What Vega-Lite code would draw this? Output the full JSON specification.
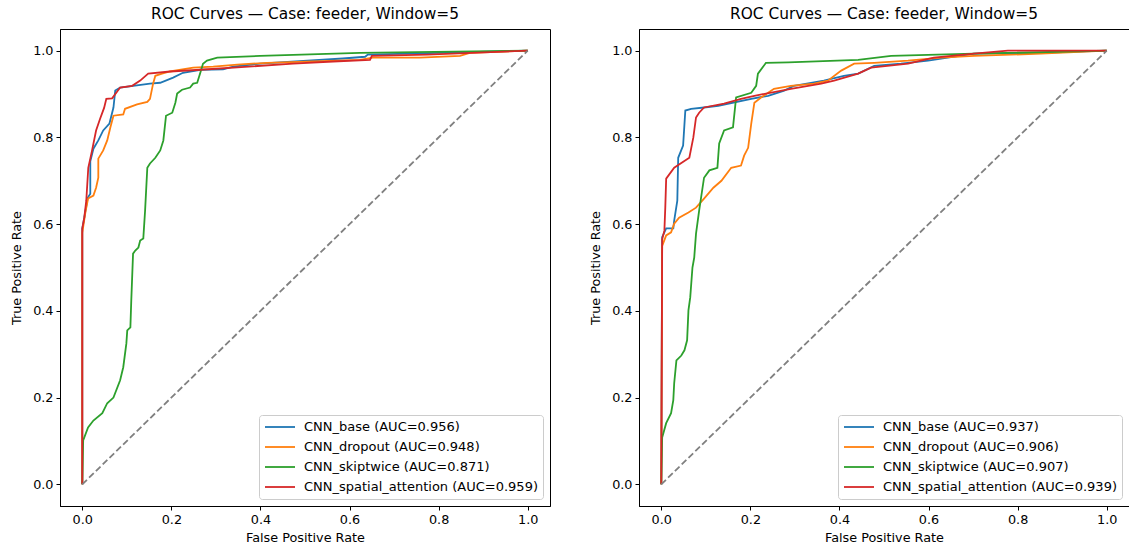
{
  "$schema": "https://vega.github.io/schema/vega-lite/v6.json",
  "padding": {"left": 10, "top": 6, "right": 0, "bottom": 0},
  "background": "white",
  "config": {
    "font": "DejaVu Sans",
    "view": {"stroke": "black", "strokeWidth": 1},
    "axis": {
      "grid": false,
      "domainColor": "black",
      "domainWidth": 1,
      "tickColor": "black",
      "tickWidth": 1,
      "tickSize": 4,
      "labelFontSize": 12.8,
      "labelColor": "black",
      "labelPadding": 3,
      "titleFontSize": 12.8,
      "titleColor": "black",
      "titleFontWeight": "normal"
    },
    "axisX": {"titlePadding": 6},
    "axisY": {"titlePadding": 9},
    "title": {"fontSize": 15.4, "fontWeight": "normal", "color": "black", "offset": 7},
    "legend": {
      "title": null,
      "orient": "bottom-right",
      "offset": 7,
      "symbolType": "M-1,0L4,0",
      "symbolSize": 144,
      "symbolStrokeWidth": 1.8,
      "labelFontSize": 13,
      "labelColor": "black",
      "labelOffset": 26,
      "labelLimit": 400,
      "rowPadding": 6,
      "padding": 5,
      "fillColor": "rgba(255,255,255,0.8)",
      "strokeColor": "#cccccc",
      "cornerRadius": 3
    }
  },
  "datasets": {
    "feeder_a": [
      {"model": "CNN_base (AUC=0.956)", "fpr": 0, "tpr": 0},
      {"model": "CNN_base (AUC=0.956)", "fpr": 0, "tpr": 0.59},
      {"model": "CNN_base (AUC=0.956)", "fpr": 0.0045, "tpr": 0.615},
      {"model": "CNN_base (AUC=0.956)", "fpr": 0.012, "tpr": 0.66},
      {"model": "CNN_base (AUC=0.956)", "fpr": 0.018, "tpr": 0.67},
      {"model": "CNN_base (AUC=0.956)", "fpr": 0.018, "tpr": 0.745},
      {"model": "CNN_base (AUC=0.956)", "fpr": 0.025, "tpr": 0.774},
      {"model": "CNN_base (AUC=0.956)", "fpr": 0.036, "tpr": 0.793},
      {"model": "CNN_base (AUC=0.956)", "fpr": 0.047, "tpr": 0.816},
      {"model": "CNN_base (AUC=0.956)", "fpr": 0.061, "tpr": 0.832},
      {"model": "CNN_base (AUC=0.956)", "fpr": 0.07, "tpr": 0.869},
      {"model": "CNN_base (AUC=0.956)", "fpr": 0.074, "tpr": 0.908},
      {"model": "CNN_base (AUC=0.956)", "fpr": 0.085, "tpr": 0.915},
      {"model": "CNN_base (AUC=0.956)", "fpr": 0.152, "tpr": 0.924},
      {"model": "CNN_base (AUC=0.956)", "fpr": 0.175, "tpr": 0.926},
      {"model": "CNN_base (AUC=0.956)", "fpr": 0.204, "tpr": 0.938},
      {"model": "CNN_base (AUC=0.956)", "fpr": 0.226, "tpr": 0.949},
      {"model": "CNN_base (AUC=0.956)", "fpr": 0.265, "tpr": 0.956},
      {"model": "CNN_base (AUC=0.956)", "fpr": 0.316, "tpr": 0.957},
      {"model": "CNN_base (AUC=0.956)", "fpr": 0.339, "tpr": 0.963},
      {"model": "CNN_base (AUC=0.956)", "fpr": 0.399, "tpr": 0.97},
      {"model": "CNN_base (AUC=0.956)", "fpr": 0.585, "tpr": 0.982},
      {"model": "CNN_base (AUC=0.956)", "fpr": 0.635, "tpr": 0.986},
      {"model": "CNN_base (AUC=0.956)", "fpr": 0.641, "tpr": 0.991},
      {"model": "CNN_base (AUC=0.956)", "fpr": 1, "tpr": 1},

      {"model": "CNN_dropout (AUC=0.948)", "fpr": 0, "tpr": 0},
      {"model": "CNN_dropout (AUC=0.948)", "fpr": 0, "tpr": 0.58},
      {"model": "CNN_dropout (AUC=0.948)", "fpr": 0.007, "tpr": 0.627},
      {"model": "CNN_dropout (AUC=0.948)", "fpr": 0.013, "tpr": 0.659},
      {"model": "CNN_dropout (AUC=0.948)", "fpr": 0.025, "tpr": 0.666},
      {"model": "CNN_dropout (AUC=0.948)", "fpr": 0.031, "tpr": 0.684},
      {"model": "CNN_dropout (AUC=0.948)", "fpr": 0.036, "tpr": 0.707},
      {"model": "CNN_dropout (AUC=0.948)", "fpr": 0.036, "tpr": 0.751},
      {"model": "CNN_dropout (AUC=0.948)", "fpr": 0.047, "tpr": 0.77},
      {"model": "CNN_dropout (AUC=0.948)", "fpr": 0.056, "tpr": 0.793},
      {"model": "CNN_dropout (AUC=0.948)", "fpr": 0.063, "tpr": 0.823},
      {"model": "CNN_dropout (AUC=0.948)", "fpr": 0.07, "tpr": 0.85},
      {"model": "CNN_dropout (AUC=0.948)", "fpr": 0.092, "tpr": 0.853},
      {"model": "CNN_dropout (AUC=0.948)", "fpr": 0.096, "tpr": 0.866},
      {"model": "CNN_dropout (AUC=0.948)", "fpr": 0.123, "tpr": 0.876},
      {"model": "CNN_dropout (AUC=0.948)", "fpr": 0.146, "tpr": 0.882},
      {"model": "CNN_dropout (AUC=0.948)", "fpr": 0.152, "tpr": 0.889},
      {"model": "CNN_dropout (AUC=0.948)", "fpr": 0.159, "tpr": 0.924},
      {"model": "CNN_dropout (AUC=0.948)", "fpr": 0.164, "tpr": 0.942},
      {"model": "CNN_dropout (AUC=0.948)", "fpr": 0.179, "tpr": 0.947},
      {"model": "CNN_dropout (AUC=0.948)", "fpr": 0.197, "tpr": 0.952},
      {"model": "CNN_dropout (AUC=0.948)", "fpr": 0.249, "tpr": 0.961},
      {"model": "CNN_dropout (AUC=0.948)", "fpr": 0.294, "tpr": 0.963},
      {"model": "CNN_dropout (AUC=0.948)", "fpr": 0.348, "tpr": 0.968},
      {"model": "CNN_dropout (AUC=0.948)", "fpr": 0.415, "tpr": 0.972},
      {"model": "CNN_dropout (AUC=0.948)", "fpr": 0.623, "tpr": 0.979},
      {"model": "CNN_dropout (AUC=0.948)", "fpr": 0.652, "tpr": 0.984},
      {"model": "CNN_dropout (AUC=0.948)", "fpr": 0.758, "tpr": 0.984},
      {"model": "CNN_dropout (AUC=0.948)", "fpr": 0.848, "tpr": 0.988},
      {"model": "CNN_dropout (AUC=0.948)", "fpr": 0.87, "tpr": 0.995},
      {"model": "CNN_dropout (AUC=0.948)", "fpr": 1, "tpr": 1},

      {"model": "CNN_skiptwice (AUC=0.871)", "fpr": 0, "tpr": 0},
      {"model": "CNN_skiptwice (AUC=0.871)", "fpr": 0.002, "tpr": 0.101},
      {"model": "CNN_skiptwice (AUC=0.871)", "fpr": 0.013, "tpr": 0.131},
      {"model": "CNN_skiptwice (AUC=0.871)", "fpr": 0.025, "tpr": 0.147},
      {"model": "CNN_skiptwice (AUC=0.871)", "fpr": 0.045, "tpr": 0.164},
      {"model": "CNN_skiptwice (AUC=0.871)", "fpr": 0.056, "tpr": 0.187},
      {"model": "CNN_skiptwice (AUC=0.871)", "fpr": 0.07, "tpr": 0.2},
      {"model": "CNN_skiptwice (AUC=0.871)", "fpr": 0.085, "tpr": 0.24},
      {"model": "CNN_skiptwice (AUC=0.871)", "fpr": 0.092, "tpr": 0.27},
      {"model": "CNN_skiptwice (AUC=0.871)", "fpr": 0.099, "tpr": 0.325},
      {"model": "CNN_skiptwice (AUC=0.871)", "fpr": 0.101, "tpr": 0.355},
      {"model": "CNN_skiptwice (AUC=0.871)", "fpr": 0.108, "tpr": 0.362},
      {"model": "CNN_skiptwice (AUC=0.871)", "fpr": 0.11, "tpr": 0.424},
      {"model": "CNN_skiptwice (AUC=0.871)", "fpr": 0.114, "tpr": 0.532},
      {"model": "CNN_skiptwice (AUC=0.871)", "fpr": 0.119, "tpr": 0.539},
      {"model": "CNN_skiptwice (AUC=0.871)", "fpr": 0.126, "tpr": 0.546},
      {"model": "CNN_skiptwice (AUC=0.871)", "fpr": 0.13, "tpr": 0.562},
      {"model": "CNN_skiptwice (AUC=0.871)", "fpr": 0.137, "tpr": 0.567},
      {"model": "CNN_skiptwice (AUC=0.871)", "fpr": 0.141, "tpr": 0.631},
      {"model": "CNN_skiptwice (AUC=0.871)", "fpr": 0.146, "tpr": 0.73},
      {"model": "CNN_skiptwice (AUC=0.871)", "fpr": 0.152, "tpr": 0.74},
      {"model": "CNN_skiptwice (AUC=0.871)", "fpr": 0.164, "tpr": 0.753},
      {"model": "CNN_skiptwice (AUC=0.871)", "fpr": 0.175, "tpr": 0.77},
      {"model": "CNN_skiptwice (AUC=0.871)", "fpr": 0.182, "tpr": 0.793},
      {"model": "CNN_skiptwice (AUC=0.871)", "fpr": 0.188, "tpr": 0.85},
      {"model": "CNN_skiptwice (AUC=0.871)", "fpr": 0.202, "tpr": 0.857},
      {"model": "CNN_skiptwice (AUC=0.871)", "fpr": 0.209, "tpr": 0.88},
      {"model": "CNN_skiptwice (AUC=0.871)", "fpr": 0.213, "tpr": 0.901},
      {"model": "CNN_skiptwice (AUC=0.871)", "fpr": 0.224, "tpr": 0.91},
      {"model": "CNN_skiptwice (AUC=0.871)", "fpr": 0.242, "tpr": 0.915},
      {"model": "CNN_skiptwice (AUC=0.871)", "fpr": 0.249, "tpr": 0.924},
      {"model": "CNN_skiptwice (AUC=0.871)", "fpr": 0.258, "tpr": 0.926},
      {"model": "CNN_skiptwice (AUC=0.871)", "fpr": 0.265, "tpr": 0.949},
      {"model": "CNN_skiptwice (AUC=0.871)", "fpr": 0.271, "tpr": 0.97},
      {"model": "CNN_skiptwice (AUC=0.871)", "fpr": 0.28, "tpr": 0.977},
      {"model": "CNN_skiptwice (AUC=0.871)", "fpr": 0.303, "tpr": 0.984},
      {"model": "CNN_skiptwice (AUC=0.871)", "fpr": 0.399, "tpr": 0.988},
      {"model": "CNN_skiptwice (AUC=0.871)", "fpr": 0.623, "tpr": 0.995},
      {"model": "CNN_skiptwice (AUC=0.871)", "fpr": 1, "tpr": 1},

      {"model": "CNN_spatial_attention (AUC=0.959)", "fpr": 0, "tpr": 0},
      {"model": "CNN_spatial_attention (AUC=0.959)", "fpr": 0, "tpr": 0.59},
      {"model": "CNN_spatial_attention (AUC=0.959)", "fpr": 0.0045, "tpr": 0.615},
      {"model": "CNN_spatial_attention (AUC=0.959)", "fpr": 0.009, "tpr": 0.654},
      {"model": "CNN_spatial_attention (AUC=0.959)", "fpr": 0.0135, "tpr": 0.73},
      {"model": "CNN_spatial_attention (AUC=0.959)", "fpr": 0.018, "tpr": 0.751},
      {"model": "CNN_spatial_attention (AUC=0.959)", "fpr": 0.022, "tpr": 0.77},
      {"model": "CNN_spatial_attention (AUC=0.959)", "fpr": 0.031, "tpr": 0.816},
      {"model": "CNN_spatial_attention (AUC=0.959)", "fpr": 0.04, "tpr": 0.843},
      {"model": "CNN_spatial_attention (AUC=0.959)", "fpr": 0.049, "tpr": 0.868},
      {"model": "CNN_spatial_attention (AUC=0.959)", "fpr": 0.054, "tpr": 0.889},
      {"model": "CNN_spatial_attention (AUC=0.959)", "fpr": 0.067, "tpr": 0.89},
      {"model": "CNN_spatial_attention (AUC=0.959)", "fpr": 0.085, "tpr": 0.915},
      {"model": "CNN_spatial_attention (AUC=0.959)", "fpr": 0.112, "tpr": 0.919},
      {"model": "CNN_spatial_attention (AUC=0.959)", "fpr": 0.13, "tpr": 0.931},
      {"model": "CNN_spatial_attention (AUC=0.959)", "fpr": 0.148, "tpr": 0.947},
      {"model": "CNN_spatial_attention (AUC=0.959)", "fpr": 0.197, "tpr": 0.952},
      {"model": "CNN_spatial_attention (AUC=0.959)", "fpr": 0.265, "tpr": 0.956},
      {"model": "CNN_spatial_attention (AUC=0.959)", "fpr": 0.473, "tpr": 0.97},
      {"model": "CNN_spatial_attention (AUC=0.959)", "fpr": 0.563, "tpr": 0.975},
      {"model": "CNN_spatial_attention (AUC=0.959)", "fpr": 0.646, "tpr": 0.979},
      {"model": "CNN_spatial_attention (AUC=0.959)", "fpr": 0.65, "tpr": 0.988},
      {"model": "CNN_spatial_attention (AUC=0.959)", "fpr": 0.774, "tpr": 0.991},
      {"model": "CNN_spatial_attention (AUC=0.959)", "fpr": 1, "tpr": 1}
    ],
    "feeder_b": [
      {"model": "CNN_base (AUC=0.937)", "fpr": 0, "tpr": 0},
      {"model": "CNN_base (AUC=0.937)", "fpr": 0.002, "tpr": 0.57},
      {"model": "CNN_base (AUC=0.937)", "fpr": 0.011, "tpr": 0.59},
      {"model": "CNN_base (AUC=0.937)", "fpr": 0.027, "tpr": 0.59},
      {"model": "CNN_base (AUC=0.937)", "fpr": 0.029, "tpr": 0.608},
      {"model": "CNN_base (AUC=0.937)", "fpr": 0.036, "tpr": 0.654},
      {"model": "CNN_base (AUC=0.937)", "fpr": 0.038, "tpr": 0.753},
      {"model": "CNN_base (AUC=0.937)", "fpr": 0.049, "tpr": 0.781},
      {"model": "CNN_base (AUC=0.937)", "fpr": 0.054, "tpr": 0.862},
      {"model": "CNN_base (AUC=0.937)", "fpr": 0.067, "tpr": 0.866},
      {"model": "CNN_base (AUC=0.937)", "fpr": 0.096, "tpr": 0.869},
      {"model": "CNN_base (AUC=0.937)", "fpr": 0.128, "tpr": 0.873},
      {"model": "CNN_base (AUC=0.937)", "fpr": 0.202, "tpr": 0.889},
      {"model": "CNN_base (AUC=0.937)", "fpr": 0.24, "tpr": 0.896},
      {"model": "CNN_base (AUC=0.937)", "fpr": 0.276, "tpr": 0.908},
      {"model": "CNN_base (AUC=0.937)", "fpr": 0.298, "tpr": 0.919},
      {"model": "CNN_base (AUC=0.937)", "fpr": 0.365, "tpr": 0.931},
      {"model": "CNN_base (AUC=0.937)", "fpr": 0.41, "tpr": 0.942},
      {"model": "CNN_base (AUC=0.937)", "fpr": 0.442, "tpr": 0.947},
      {"model": "CNN_base (AUC=0.937)", "fpr": 0.478, "tpr": 0.965},
      {"model": "CNN_base (AUC=0.937)", "fpr": 0.538, "tpr": 0.97},
      {"model": "CNN_base (AUC=0.937)", "fpr": 0.599, "tpr": 0.977},
      {"model": "CNN_base (AUC=0.937)", "fpr": 0.702, "tpr": 0.993},
      {"model": "CNN_base (AUC=0.937)", "fpr": 0.852, "tpr": 0.995},
      {"model": "CNN_base (AUC=0.937)", "fpr": 1, "tpr": 1},

      {"model": "CNN_dropout (AUC=0.906)", "fpr": 0, "tpr": 0},
      {"model": "CNN_dropout (AUC=0.906)", "fpr": 0.002, "tpr": 0.55},
      {"model": "CNN_dropout (AUC=0.906)", "fpr": 0.004, "tpr": 0.555},
      {"model": "CNN_dropout (AUC=0.906)", "fpr": 0.011, "tpr": 0.574},
      {"model": "CNN_dropout (AUC=0.906)", "fpr": 0.022, "tpr": 0.581},
      {"model": "CNN_dropout (AUC=0.906)", "fpr": 0.029, "tpr": 0.601},
      {"model": "CNN_dropout (AUC=0.906)", "fpr": 0.04, "tpr": 0.615},
      {"model": "CNN_dropout (AUC=0.906)", "fpr": 0.061, "tpr": 0.627},
      {"model": "CNN_dropout (AUC=0.906)", "fpr": 0.078, "tpr": 0.638},
      {"model": "CNN_dropout (AUC=0.906)", "fpr": 0.096, "tpr": 0.659},
      {"model": "CNN_dropout (AUC=0.906)", "fpr": 0.117, "tpr": 0.684},
      {"model": "CNN_dropout (AUC=0.906)", "fpr": 0.135, "tpr": 0.7},
      {"model": "CNN_dropout (AUC=0.906)", "fpr": 0.157, "tpr": 0.73},
      {"model": "CNN_dropout (AUC=0.906)", "fpr": 0.179, "tpr": 0.735},
      {"model": "CNN_dropout (AUC=0.906)", "fpr": 0.186, "tpr": 0.758},
      {"model": "CNN_dropout (AUC=0.906)", "fpr": 0.195, "tpr": 0.776},
      {"model": "CNN_dropout (AUC=0.906)", "fpr": 0.202, "tpr": 0.832},
      {"model": "CNN_dropout (AUC=0.906)", "fpr": 0.209, "tpr": 0.88},
      {"model": "CNN_dropout (AUC=0.906)", "fpr": 0.224, "tpr": 0.892},
      {"model": "CNN_dropout (AUC=0.906)", "fpr": 0.253, "tpr": 0.912},
      {"model": "CNN_dropout (AUC=0.906)", "fpr": 0.291, "tpr": 0.919},
      {"model": "CNN_dropout (AUC=0.906)", "fpr": 0.343, "tpr": 0.924},
      {"model": "CNN_dropout (AUC=0.906)", "fpr": 0.374, "tpr": 0.931},
      {"model": "CNN_dropout (AUC=0.906)", "fpr": 0.404, "tpr": 0.954},
      {"model": "CNN_dropout (AUC=0.906)", "fpr": 0.433, "tpr": 0.97},
      {"model": "CNN_dropout (AUC=0.906)", "fpr": 0.478, "tpr": 0.972},
      {"model": "CNN_dropout (AUC=0.906)", "fpr": 0.554, "tpr": 0.977},
      {"model": "CNN_dropout (AUC=0.906)", "fpr": 0.628, "tpr": 0.984},
      {"model": "CNN_dropout (AUC=0.906)", "fpr": 0.702, "tpr": 0.988},
      {"model": "CNN_dropout (AUC=0.906)", "fpr": 0.852, "tpr": 0.993},
      {"model": "CNN_dropout (AUC=0.906)", "fpr": 1, "tpr": 1},

      {"model": "CNN_skiptwice (AUC=0.907)", "fpr": 0, "tpr": 0},
      {"model": "CNN_skiptwice (AUC=0.907)", "fpr": 0.002, "tpr": 0.108},
      {"model": "CNN_skiptwice (AUC=0.907)", "fpr": 0.011, "tpr": 0.141},
      {"model": "CNN_skiptwice (AUC=0.907)", "fpr": 0.022, "tpr": 0.164},
      {"model": "CNN_skiptwice (AUC=0.907)", "fpr": 0.027, "tpr": 0.194},
      {"model": "CNN_skiptwice (AUC=0.907)", "fpr": 0.029, "tpr": 0.233},
      {"model": "CNN_skiptwice (AUC=0.907)", "fpr": 0.034, "tpr": 0.286},
      {"model": "CNN_skiptwice (AUC=0.907)", "fpr": 0.045, "tpr": 0.297},
      {"model": "CNN_skiptwice (AUC=0.907)", "fpr": 0.052, "tpr": 0.309},
      {"model": "CNN_skiptwice (AUC=0.907)", "fpr": 0.058, "tpr": 0.332},
      {"model": "CNN_skiptwice (AUC=0.907)", "fpr": 0.061, "tpr": 0.401},
      {"model": "CNN_skiptwice (AUC=0.907)", "fpr": 0.065, "tpr": 0.431},
      {"model": "CNN_skiptwice (AUC=0.907)", "fpr": 0.07, "tpr": 0.5},
      {"model": "CNN_skiptwice (AUC=0.907)", "fpr": 0.074, "tpr": 0.523},
      {"model": "CNN_skiptwice (AUC=0.907)", "fpr": 0.078, "tpr": 0.578},
      {"model": "CNN_skiptwice (AUC=0.907)", "fpr": 0.085, "tpr": 0.631},
      {"model": "CNN_skiptwice (AUC=0.907)", "fpr": 0.096, "tpr": 0.707},
      {"model": "CNN_skiptwice (AUC=0.907)", "fpr": 0.108, "tpr": 0.724},
      {"model": "CNN_skiptwice (AUC=0.907)", "fpr": 0.126, "tpr": 0.73},
      {"model": "CNN_skiptwice (AUC=0.907)", "fpr": 0.13, "tpr": 0.786},
      {"model": "CNN_skiptwice (AUC=0.907)", "fpr": 0.141, "tpr": 0.816},
      {"model": "CNN_skiptwice (AUC=0.907)", "fpr": 0.161, "tpr": 0.823},
      {"model": "CNN_skiptwice (AUC=0.907)", "fpr": 0.168, "tpr": 0.892},
      {"model": "CNN_skiptwice (AUC=0.907)", "fpr": 0.202, "tpr": 0.903},
      {"model": "CNN_skiptwice (AUC=0.907)", "fpr": 0.213, "tpr": 0.919},
      {"model": "CNN_skiptwice (AUC=0.907)", "fpr": 0.217, "tpr": 0.947},
      {"model": "CNN_skiptwice (AUC=0.907)", "fpr": 0.235, "tpr": 0.972},
      {"model": "CNN_skiptwice (AUC=0.907)", "fpr": 0.285, "tpr": 0.973},
      {"model": "CNN_skiptwice (AUC=0.907)", "fpr": 0.442, "tpr": 0.979},
      {"model": "CNN_skiptwice (AUC=0.907)", "fpr": 0.516, "tpr": 0.988},
      {"model": "CNN_skiptwice (AUC=0.907)", "fpr": 0.702, "tpr": 0.993},
      {"model": "CNN_skiptwice (AUC=0.907)", "fpr": 1, "tpr": 1},

      {"model": "CNN_spatial_attention (AUC=0.939)", "fpr": 0, "tpr": 0},
      {"model": "CNN_spatial_attention (AUC=0.939)", "fpr": 0.002, "tpr": 0.565},
      {"model": "CNN_spatial_attention (AUC=0.939)", "fpr": 0.007, "tpr": 0.585},
      {"model": "CNN_spatial_attention (AUC=0.939)", "fpr": 0.009, "tpr": 0.638},
      {"model": "CNN_spatial_attention (AUC=0.939)", "fpr": 0.011, "tpr": 0.705},
      {"model": "CNN_spatial_attention (AUC=0.939)", "fpr": 0.029, "tpr": 0.73},
      {"model": "CNN_spatial_attention (AUC=0.939)", "fpr": 0.063, "tpr": 0.753},
      {"model": "CNN_spatial_attention (AUC=0.939)", "fpr": 0.072, "tpr": 0.8},
      {"model": "CNN_spatial_attention (AUC=0.939)", "fpr": 0.078, "tpr": 0.846},
      {"model": "CNN_spatial_attention (AUC=0.939)", "fpr": 0.085, "tpr": 0.857},
      {"model": "CNN_spatial_attention (AUC=0.939)", "fpr": 0.096, "tpr": 0.869},
      {"model": "CNN_spatial_attention (AUC=0.939)", "fpr": 0.141, "tpr": 0.878},
      {"model": "CNN_spatial_attention (AUC=0.939)", "fpr": 0.179, "tpr": 0.889},
      {"model": "CNN_spatial_attention (AUC=0.939)", "fpr": 0.209, "tpr": 0.896},
      {"model": "CNN_spatial_attention (AUC=0.939)", "fpr": 0.291, "tpr": 0.912},
      {"model": "CNN_spatial_attention (AUC=0.939)", "fpr": 0.359, "tpr": 0.924},
      {"model": "CNN_spatial_attention (AUC=0.939)", "fpr": 0.388, "tpr": 0.931},
      {"model": "CNN_spatial_attention (AUC=0.939)", "fpr": 0.442, "tpr": 0.947},
      {"model": "CNN_spatial_attention (AUC=0.939)", "fpr": 0.471, "tpr": 0.961},
      {"model": "CNN_spatial_attention (AUC=0.939)", "fpr": 0.554, "tpr": 0.97},
      {"model": "CNN_spatial_attention (AUC=0.939)", "fpr": 0.612, "tpr": 0.984},
      {"model": "CNN_spatial_attention (AUC=0.939)", "fpr": 0.702, "tpr": 0.993},
      {"model": "CNN_spatial_attention (AUC=0.939)", "fpr": 0.778, "tpr": 1},
      {"model": "CNN_spatial_attention (AUC=0.939)", "fpr": 1, "tpr": 1}
    ],
    "chance": [
      {"fpr": 0, "tpr": 0},
      {"fpr": 1, "tpr": 1}
    ]
  },
  "hconcat": [
    {
      "width": 490,
      "height": 477,
      "title": "ROC Curves — Case: feeder, Window=5",
      "layer": [
        {
          "data": {"name": "feeder_a"},
          "mark": {"type": "line", "strokeWidth": 1.8},
          "encoding": {
            "x": {"field": "fpr", "type": "quantitative", "scale": {"domain": [-0.05, 1.05], "nice": false, "zero": false},
                  "axis": {"title": "False Positive Rate", "values": [0, 0.2, 0.4, 0.6, 0.8, 1], "format": ".1f"}},
            "y": {"field": "tpr", "type": "quantitative", "scale": {"domain": [-0.05, 1.05], "nice": false, "zero": false},
                  "axis": {"title": "True Positive Rate", "values": [0, 0.2, 0.4, 0.6, 0.8, 1], "format": ".1f"}},
            "color": {"field": "model", "type": "nominal",
                      "scale": {"domain": ["CNN_base (AUC=0.956)", "CNN_dropout (AUC=0.948)", "CNN_skiptwice (AUC=0.871)", "CNN_spatial_attention (AUC=0.959)"],
                                "range": ["#1f77b4", "#ff7f0e", "#2ca02c", "#d62728"]}},
            "order": [{"field": "fpr", "type": "quantitative"}, {"field": "tpr", "type": "quantitative"}]
          }
        },
        {
          "data": {"name": "chance"},
          "mark": {"type": "line", "color": "#808080", "strokeWidth": 1.8, "strokeDash": [6.5, 3]},
          "encoding": {
            "x": {"field": "fpr", "type": "quantitative"},
            "y": {"field": "tpr", "type": "quantitative"}
          }
        }
      ]
    },
    {
      "width": 490,
      "height": 477,
      "title": "ROC Curves — Case: feeder, Window=5",
      "layer": [
        {
          "data": {"name": "feeder_b"},
          "mark": {"type": "line", "strokeWidth": 1.8},
          "encoding": {
            "x": {"field": "fpr", "type": "quantitative", "scale": {"domain": [-0.05, 1.05], "nice": false, "zero": false},
                  "axis": {"title": "False Positive Rate", "values": [0, 0.2, 0.4, 0.6, 0.8, 1], "format": ".1f"}},
            "y": {"field": "tpr", "type": "quantitative", "scale": {"domain": [-0.05, 1.05], "nice": false, "zero": false},
                  "axis": {"title": "True Positive Rate", "values": [0, 0.2, 0.4, 0.6, 0.8, 1], "format": ".1f"}},
            "color": {"field": "model", "type": "nominal",
                      "scale": {"domain": ["CNN_base (AUC=0.937)", "CNN_dropout (AUC=0.906)", "CNN_skiptwice (AUC=0.907)", "CNN_spatial_attention (AUC=0.939)"],
                                "range": ["#1f77b4", "#ff7f0e", "#2ca02c", "#d62728"]}},
            "order": [{"field": "fpr", "type": "quantitative"}, {"field": "tpr", "type": "quantitative"}]
          }
        },
        {
          "data": {"name": "chance"},
          "mark": {"type": "line", "color": "#808080", "strokeWidth": 1.8, "strokeDash": [6.5, 3]},
          "encoding": {
            "x": {"field": "fpr", "type": "quantitative"},
            "y": {"field": "tpr", "type": "quantitative"}
          }
        }
      ]
    }
  ],
  "spacing": 89,
  "bounds": "flush",
  "resolve": {"scale": {"color": "independent"}, "legend": {"color": "independent"}}
}
